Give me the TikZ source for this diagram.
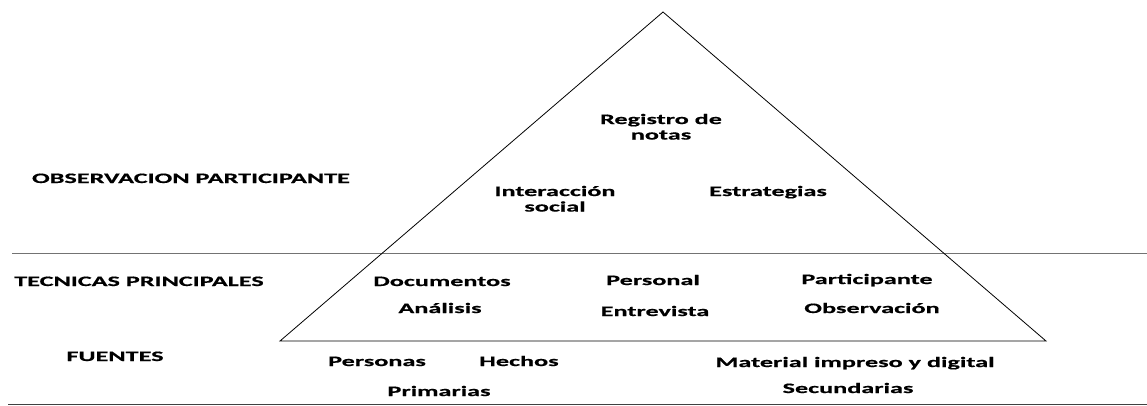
\documentclass[tikz,border=0pt]{standalone}
\usepackage{fontspec}
\setmainfont{Carlito}[FakeStretch=1.82,BoldFeatures={FakeBold=0.6}]
\begin{document}
\begin{tikzpicture}[x=1pt,y=-1pt,
  lbl/.style={inner sep=0pt,anchor=base,font=\fontsize{14.4}{15.5}\selectfont\bfseries,align=center},
  sep/.style={draw=black!55,line width=1pt},
  tri/.style={draw=black,line width=0.8pt,line join=miter}]
\useasboundingbox (0,0) rectangle (1147,405);
% separators
\coordinate (s1a) at (12,253); \coordinate (s1b) at (1147,253);
\coordinate (s2a) at (8,404); \coordinate (s2b) at (1147,404);
\draw[sep] (s1a) -- (s1b);
\draw[sep,draw=black!75] (s2a) -- (s2b);
% pyramid
\coordinate (apex) at (663,12);
\coordinate (bl) at (280,341);
\coordinate (br) at (1046,341);
\draw[tri] (apex) -- (br) -- (bl) -- cycle;
% left labels
\node[lbl] (op) at (191,183) {OBSERVACION PARTICIPANTE};
\node[lbl] (tp) at (139,286) {TECNICAS PRINCIPALES};
\node[lbl] (fu) at (115,361) {FUENTES};
% top of pyramid (base = last line)
\node[lbl] (rn) at (661,139.5) {Registro de\\notas};
\node[lbl] (is) at (555,211.5) {Interacción\\social};
\node[lbl] (es) at (768,196) {Estrategias};
% techniques
\node[lbl] (doc) at (442,286) {Documentos};
\node[lbl] (ana) at (440,313) {Análisis};
\node[lbl] (per) at (653,285) {Personal};
\node[lbl] (ent) at (655,316) {Entrevista};
\node[lbl] (par) at (867,284) {Participante};
\node[lbl] (obs) at (872,313) {Observación};
% sources
\node[lbl] (pers) at (377,366) {Personas};
\node[lbl] (hec) at (519,366) {Hechos};
\node[lbl] (mat) at (855,367) {Material impreso y digital};
\node[lbl] (pri) at (439,396) {Primarias};
\node[lbl] (sec) at (848,393) {Secundarias};
\end{tikzpicture}
\end{document}
